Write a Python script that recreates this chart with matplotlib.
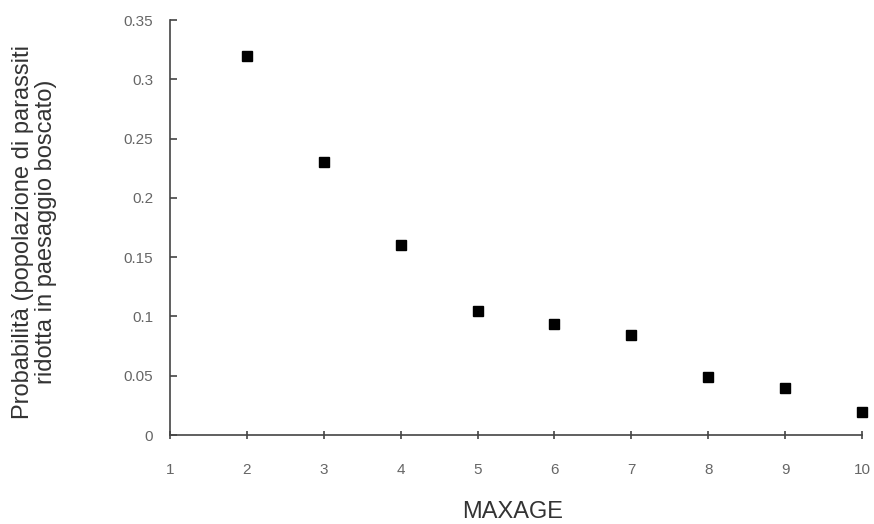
import matplotlib
matplotlib.use('Agg')
import matplotlib.pyplot as plt

# dati
maxage = [2, 3, 4, 5, 6, 7, 8, 9, 10]
probabilita = [0.32, 0.23, 0.16, 0.105, 0.094, 0.084, 0.049, 0.040, 0.019]
xticks = list(range(1, 11))
yticks = [0, 0.05, 0.1, 0.15, 0.2, 0.25, 0.3, 0.35]
ylabels = ['0', '0.05', '0.1', '0.15', '0.2', '0.25', '0.3', '0.35']

plt.rcParams['font.family'] = ['Liberation Sans', 'DejaVu Sans']

fig = plt.figure(figsize=(8.74, 5.24), dpi=100)
ax = fig.add_axes([0.1945, 0.1698, 0.7918, 0.792])

ax.plot(maxage, probabilita, 's', color='black', markersize=7.8, linestyle='none', clip_on=False)

ax.set_xlim(1, 10)
ax.set_ylim(0, 0.35)
ax.set_xticks(xticks)
ax.set_yticks(yticks)
ax.set_yticklabels(ylabels)

for s in ['top', 'right']:
    ax.spines[s].set_visible(False)
for s in ['left', 'bottom']:
    ax.spines[s].set_color('#444444')
    ax.spines[s].set_linewidth(1.2)

ax.tick_params(axis='y', direction='in', length=5, width=1.2, color='#444444',
               labelsize=11, labelcolor='#666666', pad=12)
ax.tick_params(axis='x', direction='inout', length=6, width=1.2, color='#444444',
               labelsize=11, labelcolor='#666666', pad=17)

ax.set_xlabel('MAXAGE', fontsize=17, color='#333333')
ax.xaxis.set_label_coords(0.495, -0.158)
ax.set_ylabel('Probabilità (popolazione di parassiti\nridotta in paesaggio boscato)',
              fontsize=17, color='#333333', linespacing=1.05)
ax.yaxis.set_label_coords(-0.163, 0.49)

fig.savefig('out.png', dpi=100)
